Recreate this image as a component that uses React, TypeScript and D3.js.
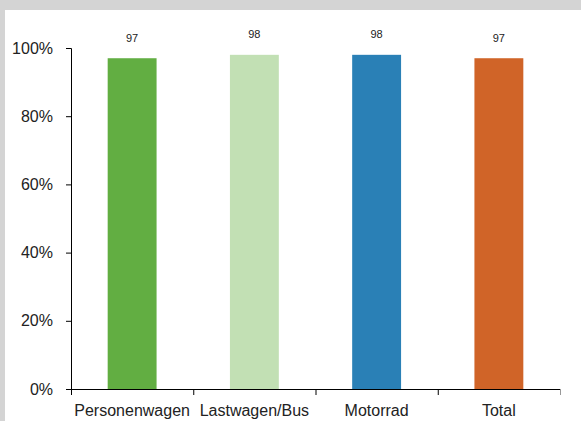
import { useEffect, useRef } from 'react';
import * as d3 from 'd3';

const categories = ['Personenwagen', 'Lastwagen/Bus', 'Motorrad', 'Total'];
const values = [97, 98, 98, 97];
const colors = ['#62ae42', '#c2e0b4', '#2a80b6', '#d06428'];
const yTicks = [0, 20, 40, 60, 80, 100];

const W = 581;
const H = 421;

export default function App() {
  const svgRef = useRef<SVGSVGElement>(null);

  useEffect(() => {
    if (!svgRef.current) return;
    const svg = d3.select(svgRef.current);
    svg.selectAll('*').remove();

    // frame: grey band on top and a thin strip on the left
    svg.append('rect').attr('width', W).attr('height', H).attr('fill', '#fff');
    svg.append('rect').attr('x', 0).attr('y', 0).attr('width', W).attr('height', 10).attr('fill', '#d4d4d4');
    svg.append('rect').attr('x', 0).attr('y', 0).attr('width', 5).attr('height', H).attr('fill', '#d4d4d4');

    const left = 71;
    const right = 560;
    const top = 48;
    const bottom = 389;

    const x = d3.scaleBand<string>().domain(categories).range([left, right]).paddingInner(0.6).paddingOuter(0.3);
    const y = d3.scaleLinear().domain([0, 100]).range([bottom, top]);

    const font = 'Liberation Sans, Arial, sans-serif';

    // y axis
    const yAxis = svg.append('g')
      .attr('transform', `translate(${left},0)`)
      .call(d3.axisLeft(y).tickValues(yTicks).tickSize(5).tickPadding(13).tickFormat(d => `${d}%`));
    yAxis.select('.domain').attr('stroke', '#000').attr('stroke-width', 1);
    yAxis.selectAll('.tick line').attr('stroke', '#000');
    yAxis.selectAll('.tick text')
      .attr('font-family', font).attr('font-size', 16).attr('fill', '#222');

    // bars
    svg.append('g').selectAll('rect')
      .data(values)
      .join('rect')
      .attr('x', (_, i) => x(categories[i])!)
      .attr('y', d => y(d))
      .attr('width', x.bandwidth())
      .attr('height', d => bottom - y(d))
      .attr('fill', (_, i) => colors[i]);

    // value labels
    svg.append('g').selectAll('text')
      .data(values)
      .join('text')
      .attr('x', (_, i) => x(categories[i])! + x.bandwidth() / 2)
      .attr('y', d => y(d) - 16.5)
      .attr('text-anchor', 'middle')
      .attr('font-family', font)
      .attr('font-size', 11)
      .attr('fill', '#222')
      .text(d => d);

    // x axis with category boundaries
    const step = (right - left) / categories.length;
    svg.append('line')
      .attr('x1', left - 5).attr('x2', right)
      .attr('y1', bottom + 0.5).attr('y2', bottom + 0.5)
      .attr('stroke', '#000');
    svg.append('g').selectAll('line')
      .data(d3.range(categories.length + 1))
      .join('line')
      .attr('x1', i => left + i * step + 0.5)
      .attr('x2', i => left + i * step + 0.5)
      .attr('y1', bottom)
      .attr('y2', bottom + 6)
      .attr('stroke', i => (i === categories.length ? '#999' : '#000'));

    svg.append('g').selectAll('text')
      .data(categories)
      .join('text')
      .attr('x', (_, i) => left + (i + 0.5) * step)
      .attr('y', 416)
      .attr('text-anchor', 'middle')
      .attr('font-family', font)
      .attr('font-size', 16)
      .attr('fill', '#222')
      .text(d => d);
  }, []);

  return (
    <svg
      ref={svgRef}
      width={W}
      height={H}
      style={{ position: 'absolute', left: 0, top: 0, display: 'block' }}
    />
  );
}
